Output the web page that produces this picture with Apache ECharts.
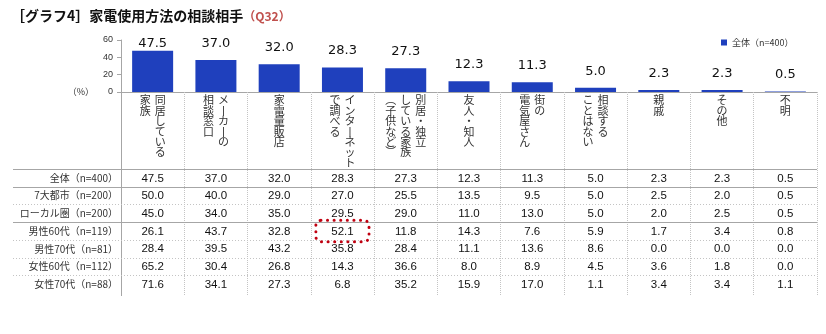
<!DOCTYPE html>
<html>
<head>
<meta charset="utf-8">
<title>家電使用方法の相談相手</title>
<script src="https://cdn.jsdelivr.net/npm/echarts@6/dist/echarts.min.js"></script>
<style>
  html, body { margin: 0; padding: 0; background: #fff; }
  #chart { width: 826px; height: 334px; }
</style>
</head>
<body>
<div id="chart"></div>
<script>
// Categories: each '\n' starts a new vertical column (read right to left)
const categories = [
  '同居している\n家族',
  'メーカーの\n相談窓口',
  '家電量販店',
  'インターネット\nで調べる',
  '別居・独立\nしている家族\n(子供など)',
  '友人・知人',
  '街の\n電気屋さん',
  '相談する\nことはない',
  '親戚',
  'その他',
  '不明'
];

const seriesName = '全体（n=400）';
const overall = [47.5, 37.0, 32.0, 28.3, 27.3, 12.3, 11.3, 5.0, 2.3, 2.3, 0.5];

const yTicks = [0, 20, 40, 60];

// Table rows
const rowLabels = [
  '全体（n=400）',
  '7大都市（n=200）',
  'ローカル圏（n=200）',
  '男性60代（n=119）',
  '男性70代（n=81）',
  '女性60代（n=112）',
  '女性70代（n=88）'
];
const rowAll      = [47.5, 37.0, 32.0, 28.3, 27.3, 12.3, 11.3, 5.0, 2.3, 2.3, 0.5];
const rowCity     = [50.0, 40.0, 29.0, 27.0, 25.5, 13.5, 9.5, 5.0, 2.5, 2.0, 0.5];
const rowLocal    = [45.0, 34.0, 35.0, 29.5, 29.0, 11.0, 13.0, 5.0, 2.0, 2.5, 0.5];
const rowMale60   = [26.1, 43.7, 32.8, 52.1, 11.8, 14.3, 7.6, 5.9, 1.7, 3.4, 0.8];
const rowMale70   = [28.4, 39.5, 43.2, 35.8, 28.4, 11.1, 13.6, 8.6, 0.0, 0.0, 0.0];
const rowFemale60 = [65.2, 30.4, 26.8, 14.3, 36.6, 8.0, 8.9, 4.5, 3.6, 1.8, 0.0];
const rowFemale70 = [71.6, 34.1, 27.3, 6.8, 35.2, 15.9, 17.0, 1.1, 3.4, 3.4, 1.1];

// Cell circled in the table: [column, row]
const highlightCell = [3, 3];

// ---------------------------------------------------------------
const tableRows = [rowAll, rowCity, rowLocal, rowMale60, rowMale70, rowFemale60, rowFemale70];

const BLUE = '#1f40bd';
const RULE = '#a6a6a6';
const DOT = '#c4c4c4';
const CJK = '"Noto Sans CJK JP", sans-serif';
const LATIN = '"Liberation Sans", Arial, sans-serif';

const yMax = 60;
const barPlotH = 52;
const barLabelH = 10;

// Vertical writing: swap glyphs that rotate in vertical text
const verticalForms = { 'ー': '丨', '(': '︵', ')': '︶', '（': '︵', '）': '︶' };
function verticalLabel(name) {
  const cols = name.split('\n').map(s => Array.from(s));
  const rows = Math.max(...cols.map(c => c.length));
  const lines = [];
  for (let r = 0; r < rows; r++) {
    let line = '';
    for (let c = cols.length - 1; c >= 0; c--) {
      const ch = cols[c][r] || '　';
      line += '{v|' + (verticalForms[ch] || ch) + '}';
    }
    lines.push(line);
  }
  return lines.join('\n');
}

// Horizontal rules of the table: boundary above row i
const ruleKinds = ['solid', 'solid', 'dotted', 'solid', 'dotted', 'dotted', 'dotted'];

const barData = overall.map(v => ({
  value: v,
  label: { distance: Math.max(1, Math.min(10, (yMax - v) * barPlotH / yMax - barLabelH)) }
}));

const cellData = [];
tableRows.forEach((row, r) => row.forEach((v, c) => cellData.push([c, r, v])));

const chart = echarts.init(document.getElementById('chart'), null, { renderer: 'canvas' });

chart.setOption({
  animation: false,
  backgroundColor: '#ffffff',
  title: {
    left: 6,
    top: 4,
    text: '{a|［グラフ4］家電使用方法の相談相手}{b|（Q32）}',
    textStyle: {
      rich: {
        a: { fontFamily: CJK, fontSize: 14, fontWeight: 'bold', color: '#111' },
        b: { fontFamily: CJK, fontSize: 12, color: '#c0504d' }
      }
    }
  },
  legend: {
    data: [seriesName],
    left: 721,
    top: 38,
    padding: 0,
    icon: 'rect',
    itemWidth: 6,
    itemHeight: 6,
    textStyle: { fontFamily: CJK, fontSize: 9, color: '#333' }
  },
  graphic: [{
    type: 'text',
    x: 94,
    y: 92,
    style: {
      text: '（%）',
      font: '9px ' + CJK,
      fill: '#333',
      align: 'right',
      verticalAlign: 'middle'
    }
  }],
  grid: [
    { left: 121, right: 9, top: 40, height: barPlotH, outerBoundsMode: 'none' },
    { left: 121, right: 9, top: 169, height: 124, outerBoundsMode: 'none' }
  ],
  xAxis: [{
    gridIndex: 0,
    type: 'category',
    data: categories,
    axisLine: { show: true, lineStyle: { color: RULE, width: 1 } },
    axisTick: {
      show: true,
      interval: 0,
      alignWithLabel: false,
      length: 204,
      lineStyle: { color: DOT, type: 'dotted', width: 1 }
    },
    axisLabel: {
      interval: 0,
      margin: 3,
      hideOverlap: false,
      formatter: verticalLabel,
      rich: {
        v: {
          fontFamily: CJK,
          fontSize: 11,
          lineHeight: 10.4,
          width: 15,
          align: 'center',
          color: '#333'
        }
      }
    },
    splitLine: { show: false }
  }, {
    gridIndex: 1,
    type: 'category',
    data: categories,
    show: false
  }],
  yAxis: [{
    gridIndex: 0,
    type: 'value',
    min: 0,
    max: yMax,
    interval: 20,
    axisLine: { show: true, lineStyle: { color: RULE, width: 1 } },
    axisTick: { show: true, length: 4, lineStyle: { color: RULE } },
    axisLabel: {
      margin: 8,
      fontFamily: LATIN,
      fontSize: 9,
      color: '#333',
      formatter: v => (yTicks.indexOf(v) >= 0 ? String(v) : '')
    },
    splitLine: { show: false }
  }, {
    gridIndex: 1,
    type: 'category',
    data: rowLabels,
    inverse: true,
    axisLine: { show: false },
    axisTick: { show: false },
    axisLabel: {
      interval: 0,
      margin: 3,
      fontFamily: CJK,
      fontSize: 10,
      color: '#333'
    },
    splitLine: { show: false }
  }],
  series: [{
    name: seriesName,
    type: 'bar',
    xAxisIndex: 0,
    yAxisIndex: 0,
    data: barData,
    barWidth: 41,
    itemStyle: { color: BLUE },
    label: {
      show: true,
      position: 'top',
      distance: 10,
      fontFamily: '"DejaVu Sans", sans-serif',
      fontSize: 13,
      color: '#111',
      formatter: p => p.value.toFixed(1)
    }
  }, {
    // Table rules: horizontal separators and the left border
    type: 'custom',
    xAxisIndex: 1,
    yAxisIndex: 1,
    silent: true,
    clip: false,
    z: 1,
    data: ruleKinds.map((k, i) => [0, i, k === 'solid' ? 1 : 0]),
    renderItem: (params, api) => {
      const cs = params.coordSys;
      const bandH = api.size([0, 1])[1];
      const y = Math.round(api.coord([0, api.value(1)])[1] - bandH / 2) + 0.5;
      const solid = api.value(2) === 1;
      const children = [{
        type: 'line',
        shape: { x1: 13, y1: y, x2: cs.x + cs.width, y2: y },
        style: solid
          ? { stroke: RULE, lineWidth: 1.2 }
          : { stroke: DOT, lineWidth: 1, lineDash: [1, 2] }
      }];
      if (params.dataIndex === 0) {
        const x = Math.round(cs.x) + 0.5;
        children.push({
          type: 'line',
          shape: { x1: x, y1: cs.y - 77, x2: x, y2: cs.y + cs.height + 3 },
          style: { stroke: RULE, lineWidth: 1 }
        });
      }
      return { type: 'group', children };
    }
  }, {
    // Table values
    type: 'custom',
    xAxisIndex: 1,
    yAxisIndex: 1,
    silent: true,
    z: 3,
    data: cellData,
    renderItem: (params, api) => {
      const p = api.coord([api.value(0), api.value(1)]);
      return {
        type: 'text',
        x: p[0],
        y: p[1] + 0.5,
        style: {
          text: api.value(2).toFixed(1),
          font: '11.5px ' + LATIN,
          fill: '#111',
          align: 'center',
          verticalAlign: 'middle'
        }
      };
    }
  }, {
    // Dotted red frame around the noted cell
    type: 'custom',
    xAxisIndex: 1,
    yAxisIndex: 1,
    silent: true,
    clip: false,
    z: 4,
    data: [highlightCell],
    renderItem: (params, api) => {
      const p = api.coord([api.value(0), api.value(1)]);
      const s = api.size([1, 1]);
      const w = s[0] * 0.84, h = s[1] * 1.2;
      return {
        type: 'rect',
        shape: { x: p[0] - w / 2, y: p[1] - h / 2, width: w, height: h, r: 5 },
        style: {
          fill: 'none',
          stroke: '#c00010',
          lineWidth: 3,
          lineDash: [0.1, 6.5],
          lineCap: 'round'
        }
      };
    }
  }]
});
</script>
</body>
</html>
